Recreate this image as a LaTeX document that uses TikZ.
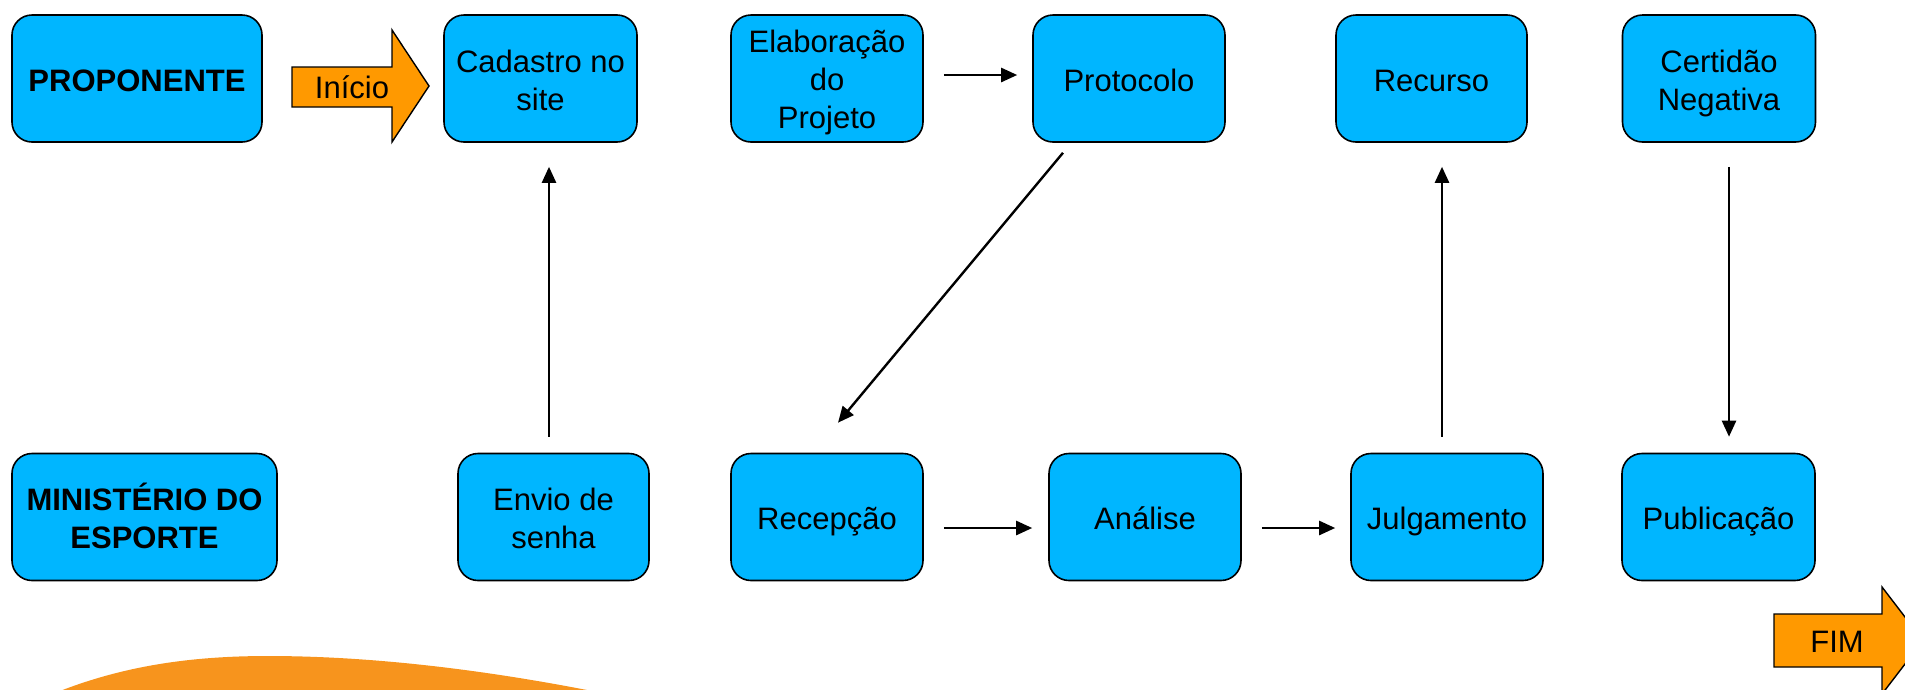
\documentclass[tikz,border=0pt]{standalone}
\usepackage{fontspec}
\setmainfont{Liberation Sans}
\usetikzlibrary{arrows.meta,calc}
\definecolor{boxfill}{RGB}{0,182,255}
\definecolor{arrowfill}{RGB}{255,153,0}
\definecolor{swoosh}{RGB}{247,148,29}
\tikzset{
  stepbox/.style={draw=black, line width=1.6pt, fill=boxfill, rounded corners=20pt,
    minimum height=127pt, inner sep=0pt, align=center,
    font=\fontsize{31}{38}\selectfont},
  headbox/.style={stepbox, font=\fontsize{31}{38}\selectfont\bfseries},
  oneline/.style={text height=31pt, text depth=6pt},
  twoline/.style={text height=66pt, text depth=3pt},
  threeline/.style={text height=105pt, text depth=6pt},
  conn/.style={line width=2.4pt, -{Triangle[length=16pt,width=14pt]}},
  bigarrow/.style={draw=black, line width=1.4pt, fill=arrowfill},
}
\begin{document}
\begin{tikzpicture}[x=1pt,y=-1pt]
\useasboundingbox (0,0) rectangle (1905,689);
% swoosh
\fill[swoosh] (50,695) .. controls (120,666) and (190,656) .. (268,656)
  .. controls (380,656) and (500,672) .. (612,695) -- cycle;
% row 1
\node[headbox, oneline, minimum width=250pt] (prop) at (137,78.5) {PROPONENTE};
\node[stepbox, twoline, minimum width=193pt] (cad) at (540.5,78.5) {Cadastro no\\site};
\node[stepbox, threeline, minimum width=192pt] (elab) at (827,78.5) {Elaboração\\do\\Projeto};
\node[stepbox, oneline, minimum width=192pt] (prot) at (1129,78.5) {Protocolo};
\node[stepbox, oneline, minimum width=191pt] (rec) at (1431.5,78.5) {Recurso};
\node[stepbox, twoline, minimum width=193pt] (cert) at (1719,78.5) {Certidão\\Negativa};
% row 2
\node[headbox, twoline, minimum width=265pt] (min) at (144.5,517) {MINISTÉRIO DO\\ESPORTE};
\node[stepbox, twoline, minimum width=191pt] (env) at (553.5,517) {Envio de\\senha};
\node[stepbox, oneline, minimum width=192pt] (recep) at (827,517) {Recepção};
\node[stepbox, oneline, minimum width=192pt] (ana) at (1145,517) {Análise};
\node[stepbox, oneline, minimum width=192pt] (jul) at (1447,517) {Julgamento};
\node[stepbox, oneline, minimum width=193pt] (pub) at (1718.5,517) {Publicação};
% Inicio arrow
\draw[bigarrow] (292,67) -- (392,67) -- (392,30) -- (429,86) -- (392,142) -- (392,107) -- (292,107) -- cycle;
\node[font=\fontsize{31}{38}\selectfont, inner sep=0pt] (inicio) at (352,87) {Início};
% FIM arrow
\draw[bigarrow] (1774,614) -- (1882,614) -- (1882,587) -- (1923,640.5) -- (1882,694) -- (1882,667) -- (1774,667) -- cycle;
\node[font=\fontsize{31}{38}\selectfont, inner sep=0pt] (fim) at (1837,642) {FIM};
% connectors
\draw[conn, shorten <=20pt, shorten >=15pt] ([yshift=3.5pt]elab.east) -- ([yshift=3.5pt]prot.west);
\draw[conn, shorten <=20pt, shorten >=16pt] ([yshift=-11pt]recep.east) -- ([yshift=-11pt]ana.west);
\draw[conn, shorten <=20pt, shorten >=15pt] ([yshift=-11pt]ana.east) -- ([yshift=-11pt]jul.west);
\draw[conn, shorten <=16pt, shorten >=24pt] ([xshift=-4.5pt]env.north) -- ([xshift=-4.5pt]env.north |- cad.south);
\draw[conn, shorten <=16pt, shorten >=24pt] ([xshift=-5pt]jul.north) -- ([xshift=-5pt]jul.north |- rec.south);
\draw[conn, shorten <=24pt, shorten >=16pt] ([xshift=10pt]cert.south) -- ([xshift=10pt]cert.south |- pub.north);
\draw[conn] ($(prot.south)+(-66,10)$) -- ($(recep.north)+(11,-30)$);
\end{tikzpicture}
\end{document}
